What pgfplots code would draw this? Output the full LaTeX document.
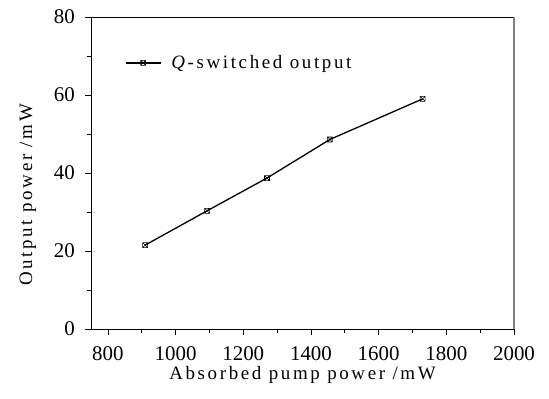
\documentclass[border=0pt]{standalone}
\usepackage{fontspec}
\setmainfont{Liberation Serif}
\newfontfamily\lsfont[LetterSpace=14]{Liberation Serif}
\usepackage{pgfplots}
\pgfplotsset{compat=1.18}
\pgfdeclareplotmark{sqx}{%
  \pgfpathrectangle{\pgfqpoint{-\pgfplotmarksize}{-\pgfplotmarksize}}{\pgfqpoint{2\pgfplotmarksize}{2\pgfplotmarksize}}%
  \pgfpathmoveto{\pgfqpoint{-\pgfplotmarksize}{-\pgfplotmarksize}}\pgfpathlineto{\pgfqpoint{\pgfplotmarksize}{\pgfplotmarksize}}%
  \pgfpathmoveto{\pgfqpoint{-\pgfplotmarksize}{\pgfplotmarksize}}\pgfpathlineto{\pgfqpoint{\pgfplotmarksize}{-\pgfplotmarksize}}%
  \pgfusepathqstroke}
\begin{document}
\begin{tikzpicture}
\begin{axis}[
  scale only axis,
  width=423bp, height=312bp,
  xmin=750, xmax=2000, ymin=0, ymax=80,
  xtick={800,1000,...,2000},
  minor xtick={900,1100,...,1900},
  ytick={0,20,...,80},
  minor ytick={10,30,50,70},
  tick pos=left,
  tick align=outside,
  major tick length=6bp,
  minor tick length=4bp,
  every tick/.style={black, line width=0.8bp},
  axis line style={line width=0.9bp},
  /pgf/number format/assume math mode=true,
  /pgf/number format/1000 sep={},
  tick label style={font=\fontsize{21}{23}\selectfont},
  xticklabel style={inner sep=0pt, yshift=-11bp},
  yticklabel style={inner sep=0pt, xshift=-10bp},
  xlabel={Absorbed pump power /mW},
  ylabel={Output power /mW},
  xlabel style={font=\lsfont\fontsize{19}{22}\selectfont, at={(axis description cs:0.5,0)}, anchor=base, yshift=-51bp},
  ylabel style={font=\lsfont\fontsize{19}{22}\selectfont, at={([xshift=-63bp]axis description cs:0,0.43)}, anchor=center},
  legend style={draw=none, fill=none, at={(axis description cs:0.08,0.853)}, anchor=west,
    font=\lsfont\fontsize{19}{22}\selectfont, inner sep=0pt},
  legend image code/.code={\draw[mark repeat=2,mark phase=2,#1] plot coordinates {(0bp,0bp) (17.5bp,0bp) (35bp,0bp)};},
  legend cell align=left,
]
\addplot[black, line width=1.3bp, mark=sqx, mark size=2.5bp,
  mark options={solid, line width=0.6bp}]
 coordinates {(910,21.5) (1093,30.3) (1270,38.7) (1456,48.6) (1730,59)};
\addlegendentry{\hspace{8bp}\textit{Q}-switched output}
\end{axis}
\draw[gray, line width=1.2bp] (current axis.south east) -- (current axis.north east);
\pgfresetboundingbox
\path[use as bounding box] ([shift={(-91bp,-70bp)}]current axis.south west) rectangle ([shift={(35bp,17bp)}]current axis.north east);
\end{tikzpicture}
\end{document}
